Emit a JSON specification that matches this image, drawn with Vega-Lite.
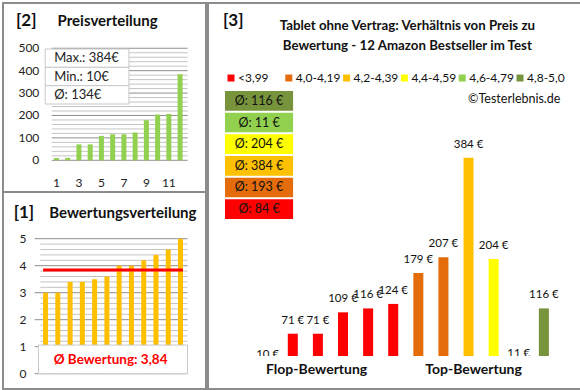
{
  "$schema": "https://vega.github.io/schema/vega-lite/v6.json",
  "background": "white",
  "padding": {"left": 2, "top": 2, "right": 0, "bottom": 0},
  "config": {
    "font": "Lato",
    "view": {"stroke": "#8c8c8c", "strokeWidth": 2},
    "text": {"font": "Lato", "color": "#111"}
  },
  "datasets": {
    "prices": [
      {"i": 1, "price": 10}, {"i": 2, "price": 11}, {"i": 3, "price": 71}, {"i": 4, "price": 71},
      {"i": 5, "price": 109}, {"i": 6, "price": 116}, {"i": 7, "price": 116}, {"i": 8, "price": 124},
      {"i": 9, "price": 179}, {"i": 10, "price": 204}, {"i": 11, "price": 207}, {"i": 12, "price": 384}
    ],
    "ratings": [
      {"i": 1, "rating": 3}, {"i": 2, "rating": 3}, {"i": 3, "rating": 3.4}, {"i": 4, "rating": 3.4},
      {"i": 5, "rating": 3.5}, {"i": 6, "rating": 3.6}, {"i": 7, "rating": 4}, {"i": 8, "rating": 4},
      {"i": 9, "rating": 4.2}, {"i": 10, "rating": 4.4}, {"i": 11, "rating": 4.6}, {"i": 12, "rating": 5}
    ],
    "products": [
      {"i": 1, "price": 10, "cat": "<3,99", "label": "10 €"},
      {"i": 2, "price": 71, "cat": "<3,99", "label": "71 €"},
      {"i": 3, "price": 71, "cat": "<3,99", "label": "71 €"},
      {"i": 4, "price": 109, "cat": "<3,99", "label": "109 €"},
      {"i": 5, "price": 116, "cat": "<3,99", "label": "116 €"},
      {"i": 6, "price": 124, "cat": "<3,99", "label": "124 €"},
      {"i": 7, "price": 179, "cat": "4,0-4,19", "label": "179 €"},
      {"i": 8, "price": 207, "cat": "4,0-4,19", "label": "207 €"},
      {"i": 9, "price": 384, "cat": "4,2-4,39", "label": "384 €"},
      {"i": 10, "price": 204, "cat": "4,4-4,59", "label": "204 €"},
      {"i": 11, "price": 11, "cat": "4,6-4,79", "label": "11 €"},
      {"i": 12, "price": 116, "cat": "4,8-5,0", "label": "116 €"}
    ],
    "avgs": [
      {"cat": "4,8-5,0", "avg": "Ø: 116 €"},
      {"cat": "4,6-4,79", "avg": "Ø: 11 €"},
      {"cat": "4,4-4,59", "avg": "Ø: 204 €"},
      {"cat": "4,2-4,39", "avg": "Ø: 384 €"},
      {"cat": "4,0-4,19", "avg": "Ø: 193 €"},
      {"cat": "<3,99", "avg": "Ø: 84 €"}
    ],
    "stats": [
      {"s": "Max.: 384€"}, {"s": "Min.: 10€"}, {"s": "Ø: 134€"}
    ],
    "grid2": [
      {"g": 0}, {"g": 20}, {"g": 40}, {"g": 60}, {"g": 80}, {"g": 100}, {"g": 120}, {"g": 140}, {"g": 160},
      {"g": 180}, {"g": 200}, {"g": 220}, {"g": 240}, {"g": 260}, {"g": 280}, {"g": 300}, {"g": 320},
      {"g": 340}, {"g": 360}, {"g": 380}, {"g": 400}, {"g": 420}, {"g": 440}, {"g": 460}, {"g": 480}, {"g": 500}
    ],
    "grid1": [
      {"g": 0}, {"g": 0.2}, {"g": 0.4}, {"g": 0.6}, {"g": 0.8}, {"g": 1}, {"g": 1.2}, {"g": 1.4}, {"g": 1.6},
      {"g": 1.8}, {"g": 2}, {"g": 2.2}, {"g": 2.4}, {"g": 2.6}, {"g": 2.8}, {"g": 3}, {"g": 3.2}, {"g": 3.4},
      {"g": 3.6}, {"g": 3.8}, {"g": 4}, {"g": 4.2}, {"g": 4.4}, {"g": 4.6}, {"g": 4.8}, {"g": 5}
    ],
    "one": [{}]
  },
  "hconcat": [
    {
      "vconcat": [
        {
          "width": 203,
          "height": 189,
          "layer": [
            {
              "layer": [
                {
                  "data": {"name": "grid2"},
                  "transform": [{"filter": "datum.g % 100 != 0"}],
                  "mark": {"type": "rule", "color": "#c4c4c4", "strokeWidth": 1},
                  "encoding": {
                    "y": {"field": "g", "type": "quantitative", "scale": {"domain": [-141.5, 702], "nice": false, "zero": false}, "axis": null},
                    "x": {"datum": 0.577, "type": "quantitative", "scale": {"domain": [-3.31, 13.86], "nice": false, "zero": false}, "axis": null},
                    "x2": {"datum": 12.67}
                  }
                },
                {
                  "data": {"name": "grid2"},
                  "transform": [{"filter": "datum.g % 100 == 0"}],
                  "mark": {"type": "rule", "color": "#8e8e8e", "strokeWidth": 1},
                  "encoding": {
                    "y": {"field": "g", "type": "quantitative", "axis": null},
                    "x": {"datum": 0.577, "type": "quantitative", "axis": null},
                    "x2": {"datum": 12.67}
                  }
                },
                {
                  "data": {"name": "grid2"},
                  "transform": [{"filter": "datum.g % 100 == 0"}],
                  "mark": {"type": "text", "align": "right", "baseline": "middle", "fontSize": 12, "color": "#222"},
                  "encoding": {
                    "y": {"field": "g", "type": "quantitative", "axis": null},
                    "x": {"datum": -0.523, "type": "quantitative", "axis": null},
                    "text": {"field": "g"}
                  }
                },
                {
                  "data": {"name": "prices"},
                  "mark": {"type": "bar", "size": 5, "color": "#92D050"},
                  "encoding": {
                    "x": {"field": "i", "type": "quantitative", "axis": null},
                    "y": {"field": "price", "type": "quantitative", "axis": null}
                  }
                },
                {
                  "data": {"name": "prices"},
                  "transform": [{"filter": "datum.i % 2 == 1"}],
                  "mark": {"type": "text", "align": "center", "baseline": "middle", "fontSize": 12, "color": "#222"},
                  "encoding": {
                    "x": {"field": "i", "type": "quantitative", "axis": null},
                    "y": {"datum": -100, "type": "quantitative", "axis": null},
                    "text": {"field": "i"}
                  }
                },
                {
                  "data": {"name": "one"},
                  "mark": {"type": "text", "text": "[2]", "align": "left", "baseline": "middle", "fontSize": 17, "fontWeight": "bold"},
                  "encoding": {
                    "x": {"datum": -2.6, "type": "quantitative", "axis": null},
                    "y": {"datum": 621.9, "type": "quantitative", "axis": null}
                  }
                },
                {
                  "data": {"name": "one"},
                  "mark": {"type": "text", "text": "Preisverteilung", "align": "left", "baseline": "middle", "fontSize": 15, "fontWeight": "bold"},
                  "encoding": {
                    "x": {"datum": 1.1, "type": "quantitative", "axis": null},
                    "y": {"datum": 621.9, "type": "quantitative", "axis": null}
                  }
                }
              ]
            },
            {
              "data": {"name": "stats"},
              "layer": [
                {
                  "mark": {"type": "rect", "fill": "white", "stroke": "#c8c8c8", "strokeWidth": 1},
                  "encoding": {
                    "y": {"field": "s", "type": "nominal", "sort": null, "scale": {"range": [46, 101], "paddingInner": 0, "paddingOuter": 0}, "axis": null},
                    "x": {"datum": 0.0, "type": "quantitative", "axis": null},
                    "x2": {"datum": 7.45}
                  }
                },
                {
                  "mark": {"type": "text", "align": "left", "baseline": "middle", "fontSize": 13, "color": "#222"},
                  "encoding": {
                    "y": {"field": "s", "type": "nominal", "sort": null, "axis": null},
                    "x": {"datum": 0.8, "type": "quantitative", "axis": null},
                    "text": {"field": "s"}
                  }
                }
              ]
            }
          ],
          "resolve": {"scale": {"y": "independent"}}
        },
        {
          "width": 203,
          "height": 197,
          "layer": [
            {
              "data": {"name": "grid1"},
              "transform": [{"filter": "datum.g % 1 != 0"}],
              "mark": {"type": "rule", "color": "#c4c4c4", "strokeWidth": 1},
              "encoding": {
                "y": {"field": "g", "type": "quantitative", "scale": {"domain": [-0.567, 6.73], "nice": false, "zero": false}, "axis": null},
                "x": {"datum": 0.574, "type": "quantitative", "scale": {"domain": [-2.06, 13.67], "nice": false, "zero": false}, "axis": null},
                "x2": {"datum": 12.57}
              }
            },
            {
              "data": {"name": "grid1"},
              "transform": [{"filter": "datum.g % 1 == 0"}],
              "mark": {"type": "rule", "color": "#8e8e8e", "strokeWidth": 1},
              "encoding": {
                "y": {"field": "g", "type": "quantitative", "axis": null},
                "x": {"datum": 0.108, "type": "quantitative", "axis": null},
                "x2": {"datum": 12.57}
              }
            },
            {
              "data": {"name": "grid1"},
              "transform": [{"filter": "datum.g % 1 == 0"}],
              "mark": {"type": "text", "align": "right", "baseline": "middle", "fontSize": 12, "color": "#222"},
              "encoding": {
                "y": {"field": "g", "type": "quantitative", "axis": null},
                "x": {"datum": -0.55, "type": "quantitative", "axis": null},
                "text": {"field": "g"}
              }
            },
            {
              "data": {"name": "ratings"},
              "mark": {"type": "bar", "size": 5, "color": "#FFC000"},
              "encoding": {
                "x": {"field": "i", "type": "quantitative", "axis": null},
                "y": {"field": "rating", "type": "quantitative", "axis": null}
              }
            },
            {
              "data": {"name": "one"},
              "mark": {"type": "rule", "color": "#FF0000", "strokeWidth": 3},
              "encoding": {
                "y": {"datum": 3.84, "type": "quantitative", "axis": null},
                "x": {"datum": 0.8, "type": "quantitative", "axis": null},
                "x2": {"datum": 12.2}
              }
            },
            {
              "data": {"name": "one"},
              "mark": {"type": "rect", "fill": "white", "stroke": "#c8c8c8", "strokeWidth": 1},
              "encoding": {
                "y": {"datum": 0, "type": "quantitative", "axis": null},
                "y2": {"datum": 1.06},
                "x": {"datum": 0.42, "type": "quantitative", "axis": null},
                "x2": {"datum": 12.57}
              }
            },
            {
              "data": {"name": "one"},
              "mark": {"type": "text", "text": "Ø Bewertung: 3,84", "align": "center", "baseline": "middle", "fontSize": 13.5, "fontWeight": "bold", "color": "#FF0000"},
              "encoding": {
                "x": {"datum": 6.3, "type": "quantitative", "axis": null},
                "y": {"datum": 0.5, "type": "quantitative", "axis": null}
              }
            },
            {
              "data": {"name": "one"},
              "mark": {"type": "text", "text": "[1]", "align": "left", "baseline": "middle", "fontSize": 17, "fontWeight": "bold"},
              "encoding": {
                "x": {"datum": -1.6, "type": "quantitative", "axis": null},
                "y": {"datum": 5.97, "type": "quantitative", "axis": null}
              }
            },
            {
              "data": {"name": "one"},
              "mark": {"type": "text", "text": "Bewertungsverteilung", "align": "left", "baseline": "middle", "fontSize": 15, "fontWeight": "bold"},
              "encoding": {
                "x": {"datum": 1.3, "type": "quantitative", "axis": null},
                "y": {"datum": 5.97, "type": "quantitative", "axis": null}
              }
            }
          ]
        }
      ],
      "spacing": 0,
      "bounds": "flush"
    },
    {
      "width": 373,
      "height": 386,
      "layer": [
        {
          "layer": [
            {
              "data": {"name": "products"},
              "transform": [{"filter": "datum.price > 31.3"}],
              "mark": {"type": "bar", "size": 10},
              "encoding": {
                "x": {"field": "i", "type": "quantitative", "scale": {"domain": [-1.178, 13.28], "nice": false, "zero": false}, "axis": null},
                "y": {"field": "price", "type": "quantitative", "scale": {"domain": [-27.3, 659.1], "nice": false, "zero": false}, "axis": null},
                "y2": {"datum": 31.3},
                "color": {"field": "cat", "type": "nominal",
                  "scale": {"domain": ["<3,99", "4,0-4,19", "4,2-4,39", "4,4-4,59", "4,6-4,79", "4,8-5,0"], "range": ["#FF0000", "#E46C0A", "#FFC000", "#FFFF00", "#92D050", "#77933C"]},
                  "legend": null}
              }
            },
            {
              "data": {"name": "products"},
              "mark": {"type": "text", "baseline": "middle", "align": "center", "dy": -13, "fontSize": 11.5, "color": "#111"},
              "encoding": {
                "x": {"field": "i", "type": "quantitative", "axis": null},
                "y": {"field": "price", "type": "quantitative", "axis": null},
                "text": {"field": "label"}
              }
            },
            {
              "data": {"name": "one"},
              "mark": {"type": "rect", "fill": "white"},
              "encoding": {
                "x": {"datum": -1.0, "type": "quantitative", "axis": null},
                "x2": {"datum": 13.1},
                "y": {"datum": 31.3, "type": "quantitative", "axis": null},
                "y2": {"datum": 21.5}
              }
            },
            {
              "data": {"name": "one"},
              "mark": {"type": "text", "text": "Flop-Bewertung", "align": "center", "baseline": "middle", "fontSize": 14, "fontWeight": "bold"},
              "encoding": {
                "x": {"datum": 2.95, "type": "quantitative", "axis": null},
                "y": {"datum": 6.4, "type": "quantitative", "axis": null}
              }
            },
            {
              "data": {"name": "one"},
              "mark": {"type": "text", "text": "Top-Bewertung", "align": "center", "baseline": "middle", "fontSize": 14, "fontWeight": "bold"},
              "encoding": {
                "x": {"datum": 9.2, "type": "quantitative", "axis": null},
                "y": {"datum": 6.4, "type": "quantitative", "axis": null}
              }
            },
            {
              "data": {"name": "one"},
              "mark": {"type": "text", "text": "[3]", "align": "left", "baseline": "middle", "fontSize": 17, "fontWeight": "bold"},
              "encoding": {
                "x": {"datum": -0.78, "type": "quantitative", "axis": null},
                "y": {"datum": 627.1, "type": "quantitative", "axis": null}
              }
            },
            {
              "data": {"name": "one"},
              "mark": {"type": "text", "text": "Tablet ohne Vertrag: Verhältnis von Preis zu", "align": "center", "baseline": "middle", "fontSize": 13.3, "fontWeight": "bold"},
              "encoding": {
                "x": {"datum": 6.562, "type": "quantitative", "axis": null},
                "y": {"datum": 618.2, "type": "quantitative", "axis": null}
              }
            },
            {
              "data": {"name": "one"},
              "mark": {"type": "text", "text": "Bewertung - 12 Amazon Bestseller im Test", "align": "center", "baseline": "middle", "fontSize": 13.3, "fontWeight": "bold"},
              "encoding": {
                "x": {"datum": 6.562, "type": "quantitative", "axis": null},
                "y": {"datum": 582.6, "type": "quantitative", "axis": null}
              }
            },
            {
              "data": {"name": "one"},
              "mark": {"type": "text", "text": "©Testerlebnis.de", "align": "right", "baseline": "middle", "fontSize": 12.5},
              "encoding": {
                "x": {"datum": 12.66, "type": "quantitative", "axis": null},
                "y": {"datum": 488.4, "type": "quantitative", "axis": null}
              }
            }
          ]
        },
        {
          "data": {"name": "avgs"},
          "layer": [
            {
              "mark": {"type": "rect"},
              "encoding": {
                "y": {"field": "cat", "type": "nominal", "sort": null, "scale": {"range": [88, 216], "paddingInner": 0.09, "paddingOuter": 0}, "axis": null},
                "x": {"datum": -0.52, "type": "quantitative", "scale": {"domain": [-1.178, 13.28], "nice": false, "zero": false}, "axis": null},
                "x2": {"datum": 2.12},
                "color": {"field": "cat", "type": "nominal", "legend": null}
              }
            },
            {
              "mark": {"type": "text", "align": "center", "baseline": "middle", "fontSize": 12.5, "color": "#111"},
              "encoding": {
                "y": {"field": "cat", "type": "nominal", "sort": null, "axis": null},
                "x": {"datum": 0.8, "type": "quantitative", "axis": null},
                "text": {"field": "avg"}
              }
            }
          ]
        },
        {
          "data": {"name": "avgs"},
          "layer": [
            {
              "mark": {"type": "square", "size": 49, "filled": true, "opacity": 1},
              "encoding": {
                "x": {"field": "cat", "type": "nominal", "scale": {"type": "point", "domain": ["<3,99", "4,0-4,19", "4,2-4,39", "4,4-4,59", "4,6-4,79", "4,8-5,0"], "range": [23, 312], "padding": 0}, "axis": null},
                "y": {"datum": 525.7, "type": "quantitative", "scale": {"domain": [-27.3, 659.1], "nice": false, "zero": false}, "axis": null},
                "color": {"field": "cat", "type": "nominal", "legend": null}
              }
            },
            {
              "mark": {"type": "text", "align": "left", "baseline": "middle", "dx": 7, "fontSize": 12, "color": "#111"},
              "encoding": {
                "x": {"field": "cat", "type": "nominal", "axis": null},
                "y": {"datum": 525.7, "type": "quantitative", "axis": null},
                "text": {"field": "cat"}
              }
            }
          ]
        }
      ],
      "resolve": {"scale": {"x": "independent", "y": "independent"}}
    }
  ],
  "spacing": 0
}
